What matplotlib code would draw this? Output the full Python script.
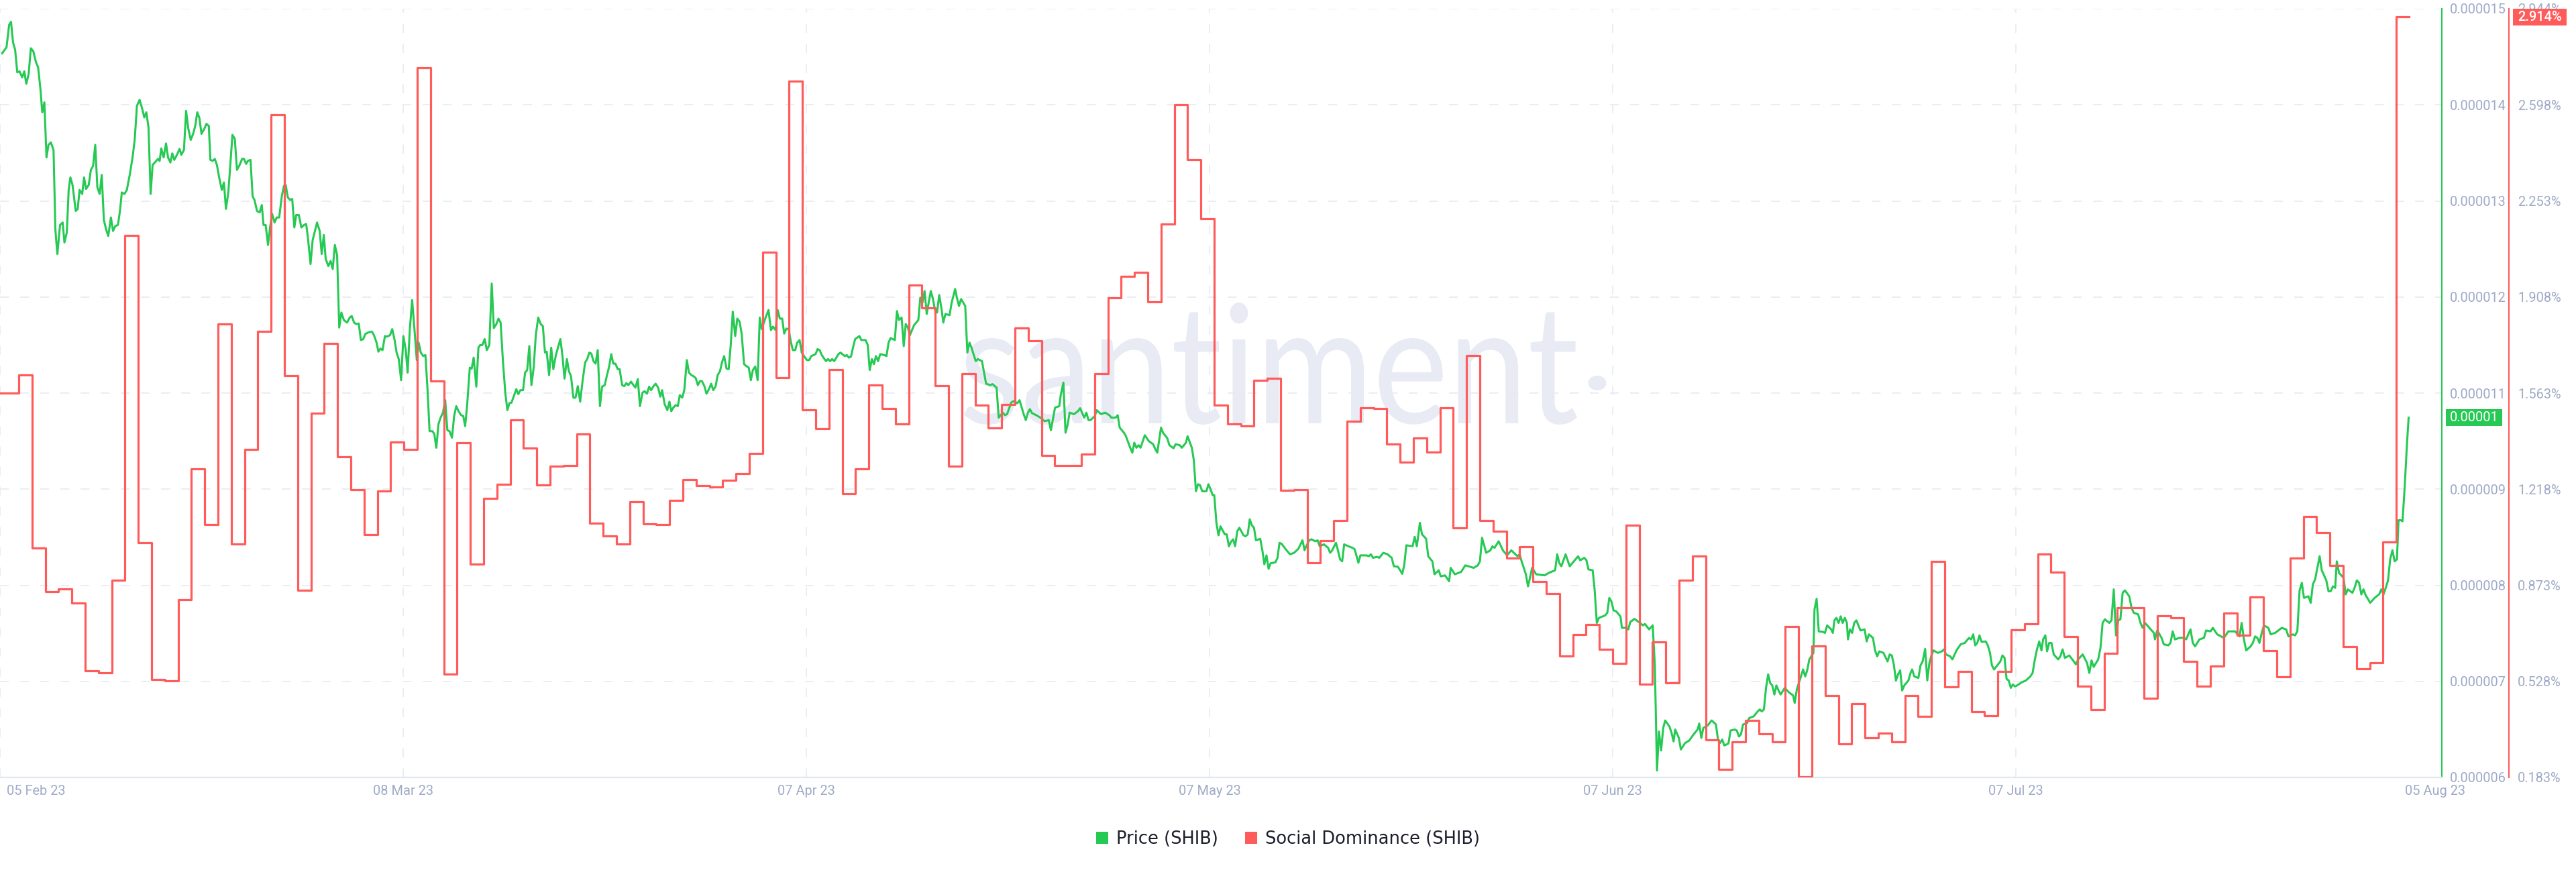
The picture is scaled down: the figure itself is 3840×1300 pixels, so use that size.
import numpy as np
import matplotlib
matplotlib.use("Agg")
import matplotlib.pyplot as plt
from matplotlib.patches import Patch, PathPatch, Ellipse, Rectangle
from matplotlib.textpath import TextPath
from matplotlib.font_manager import FontProperties
from matplotlib.transforms import Affine2D, IdentityTransform, ScaledTranslation

GREEN = "#26C953"
RED = "#FF5B5B"
MUTED = "#9FAAC6"
GRID = "#E7EAF3"

# x axis: days since the start of the chart
date_labels = ["05 Feb 23", "08 Mar 23", "07 Apr 23", "07 May 23", "07 Jun 23", "07 Jul 23", "05 Aug 23"]
date_ticks = [0, 30.35, 60.71, 91.06, 121.41, 151.77, 183.84]
x_end = 183.84
data_end = 181.34

price_tick_labels = ["0.000006", "0.000007", "0.000008", "0.000009", "0.000011",
                     "0.000012", "0.000013", "0.000014", "0.000015"]
dom_tick_labels = ["0.183%", "0.528%", "0.873%", "1.218%", "1.563%",
                   "1.908%", "2.253%", "2.598%", "2.944%"]
price_range = (6e-6, 15e-6)
dom_range = (0.183, 2.943)

# price (SHIB), in millionths of a dollar
price_days = [
    0.16, 0.49, 0.69, 0.83, 0.98, 1.14, 1.30, 1.47, 1.67, 1.83, 1.98, 2.16, 2.32, 2.51, 2.71, 2.87,
    3.05, 3.18, 3.34, 3.50, 3.65, 3.83, 4.03, 4.17, 4.32, 4.52, 4.72, 4.85, 5.03, 5.17, 5.30, 5.46,
    5.70, 5.85, 5.99, 6.19, 6.33, 6.48, 6.68, 6.84, 7.01, 7.17, 7.33, 7.50, 7.66, 7.82, 8.00, 8.15,
    8.35, 8.51, 8.68, 8.88, 9.04, 9.17, 9.37, 9.55, 9.78, 9.98, 10.14, 10.31, 10.51, 10.71, 10.86,
    11.02, 11.18, 11.34, 11.49, 11.73, 11.89, 12.02, 12.14, 12.32, 12.50, 12.65, 12.83, 12.97, 13.12,
    13.32, 13.52, 13.65, 13.85, 14.01, 14.18, 14.36, 14.54, 14.70, 14.85, 15.01, 15.17, 15.38, 15.54,
    15.72, 15.84, 16.01, 16.17, 16.33, 16.50, 16.70, 16.86, 17.01, 17.19, 17.35, 17.50, 17.68, 17.84,
    18.04, 18.23, 18.37, 18.53, 18.66, 18.86, 19.02, 19.16, 19.35, 19.55, 19.71, 19.84, 20.00, 20.18,
    20.33, 20.49, 20.67, 20.83, 21.02, 21.22, 21.38, 21.51, 21.67, 21.85, 22.00, 22.16, 22.30, 22.50,
    22.69, 22.89, 23.05, 23.18, 23.38, 23.54, 23.71, 23.87, 24.07, 24.22, 24.38, 24.52, 24.72, 24.89,
    25.05, 25.21, 25.38, 25.54, 25.70, 25.89, 26.13, 26.33, 26.48, 26.66, 26.82, 27.01, 27.17, 27.35,
    27.50, 27.70, 28.00, 28.15, 28.35, 28.49, 28.64, 28.80, 28.98, 29.15, 29.37, 29.53, 29.71, 29.86,
    30.02, 30.20, 30.37, 30.55, 30.69,
    30.85, 31.03, 31.18, 31.38, 31.52, 31.68, 31.87, 32.03, 32.19, 32.34, 32.56, 32.70, 32.85, 33.01,
    33.17, 33.35, 33.52, 33.68, 33.84, 34.03, 34.19, 34.35, 34.52, 34.72, 34.88, 35.02, 35.17, 35.37,
    35.51, 35.66, 35.86, 36.02, 36.15, 36.31, 36.49, 36.65, 36.84, 37.02, 37.18, 37.37, 37.53, 37.69,
    37.86, 38.04, 38.20, 38.35, 38.51, 38.71, 38.87, 39.02, 39.18, 39.38, 39.53, 39.69, 39.85, 40.01,
    40.18, 40.34, 40.52, 40.71, 40.87, 41.03, 41.16, 41.34, 41.50, 41.66, 41.85, 42.01, 42.19, 42.34,
    42.50, 42.68, 42.83, 42.99, 43.17, 43.33, 43.50, 43.68, 43.86, 44.05, 44.21, 44.37, 44.52, 44.68,
    44.84, 45.00, 45.17, 45.33, 45.53, 45.68, 45.86, 46.02, 46.17, 46.33, 46.51, 46.65, 46.84, 47.00,
    47.16, 47.31, 47.51, 47.69, 47.84, 48.02, 48.18, 48.37, 48.53, 48.71, 48.87, 49.02, 49.20, 49.36,
    49.55, 49.71, 49.85, 50.04, 50.24, 50.40, 50.54, 50.69, 50.87, 51.03, 51.18, 51.36, 51.52, 51.71,
    51.87, 52.05, 52.21, 52.38, 52.54, 52.70, 52.85, 53.03, 53.19, 53.38, 53.54, 53.70, 53.88, 54.03,
    54.21, 54.35, 54.52, 54.70, 54.86, 55.02, 55.17, 55.35, 55.51, 55.68, 55.84, 56.02, 56.19, 56.37,
    56.53, 56.68, 56.86, 57.04, 57.20, 57.35, 57.51, 57.67, 57.86, 58.04, 58.20, 58.39, 58.55, 58.71,
    58.89, 59.04, 59.20, 59.38, 59.53, 59.69, 59.87, 60.02, 60.20, 60.36, 60.56, 60.75,
    60.92, 61.08, 61.40, 61.55, 61.71, 61.87, 62.18, 62.34, 62.50, 62.65, 62.81, 63.12, 63.28, 63.60,
    63.75, 63.91, 64.07, 64.22, 64.38, 64.70, 64.85, 65.17, 65.33, 65.48, 65.64, 65.80, 65.95, 66.11,
    66.27, 66.58, 66.74, 66.90, 67.05, 67.37, 67.53, 67.68, 67.88, 68.04, 68.19, 68.35, 68.51, 68.66,
    68.82, 69.14, 69.29, 69.45, 69.61, 69.77, 69.92, 70.08, 70.24, 70.39, 70.55, 70.71, 70.87, 71.02,
    71.18, 71.49, 71.65, 71.91, 72.04, 72.20, 72.36, 72.67, 72.83, 72.99, 73.14, 73.46, 73.62, 73.93,
    74.09, 74.24, 74.56, 74.72, 75.03, 75.19, 75.50, 75.66, 75.82, 76.13, 76.29, 76.60, 76.76, 77.07,
    77.23, 77.39, 77.54, 77.70, 78.02, 78.33, 78.65, 78.96, 79.12, 79.27, 79.43, 79.75, 79.86, 80.06,
    80.22, 80.37, 80.53, 80.85, 81.16, 81.32, 81.63, 81.79, 81.95, 82.10, 82.42, 82.57, 82.89, 83.20,
    83.52, 83.67, 83.99, 84.15, 84.30, 84.62, 84.77, 85.09, 85.25, 85.40, 85.56, 85.72, 85.87, 86.19,
    86.50, 86.82, 86.98, 87.13, 87.41, 87.56, 87.88, 88.04, 88.35, 88.51, 88.82, 88.98, 89.29, 89.41,
    89.73, 89.88, 90.04, 90.20, 90.35, 90.51, 90.83, 90.98, 91.14, 91.30,
    91.42, 91.58, 91.74, 91.89, 92.21, 92.36, 92.52, 92.68, 92.84, 92.99, 93.15, 93.31, 93.62, 93.78,
    93.94, 94.09, 94.25, 94.41, 94.56, 94.88, 95.04, 95.19, 95.35, 95.51, 95.66, 96.02, 96.18, 96.33,
    96.49, 96.80, 97.12, 97.43, 97.75, 98.06, 98.22, 98.38, 98.57, 98.73, 99.04, 99.20, 99.36, 99.67,
    99.99, 100.14, 100.30, 100.58, 100.73, 100.89, 101.05, 101.20, 101.52, 101.83, 101.99, 102.27,
    102.42, 102.89, 103.05, 103.21, 103.37, 103.68, 103.84, 104.15, 104.47, 104.78, 104.94, 105.25,
    105.57, 105.72, 105.88, 106.35, 106.51, 106.67, 106.90, 107.06, 107.37, 107.53, 107.84, 108.00,
    108.32, 108.47, 108.79, 109.10, 109.22, 109.53, 110.01, 110.32, 110.95, 111.26, 111.42, 111.58,
    111.89, 112.21, 112.36, 112.52, 112.83, 113.15, 113.46, 113.78, 114.25, 114.41, 114.56, 114.88,
    115.04, 115.19, 115.35, 115.66, 116.29, 116.61, 117.08, 117.24, 117.39, 117.55, 117.87, 118.18,
    118.49, 118.81, 118.97, 119.28, 119.44, 119.59, 119.91, 120.06, 120.22, 120.38, 120.85, 121.01,
    121.16, 121.32, 121.48,
    121.68, 122.00, 122.11, 122.43, 122.59, 122.74, 123.06, 123.37, 123.69, 123.84, 124.16, 124.43,
    124.59, 124.75, 124.90, 125.06, 125.22, 125.37, 125.69, 125.85, 126.00, 126.12, 126.40, 126.55,
    126.87, 127.18, 127.50, 127.81, 127.93, 128.09, 128.24, 128.56, 128.87, 129.19, 129.34, 129.50,
    129.66, 129.82, 130.13, 130.29, 130.60, 130.76, 130.92, 131.07, 131.23, 131.54, 131.70, 132.02,
    132.33, 132.49, 132.64, 132.80, 132.96, 133.12, 133.27, 133.43, 133.59, 133.74, 133.90, 134.06,
    134.37, 134.69, 135.00, 135.12, 135.28, 135.43, 135.59, 135.75, 135.91, 136.06, 136.22, 136.53,
    136.61, 136.77, 136.93, 137.24, 137.40, 137.56, 137.87, 137.99, 138.11, 138.26, 138.42, 138.58,
    138.73, 138.89, 139.05, 139.13, 139.28, 139.44, 139.60, 139.76, 140.07, 140.38, 140.54, 140.70,
    141.01, 141.17, 141.33, 141.48, 141.80, 142.11, 142.27, 142.43, 142.58, 142.74, 142.90, 143.06,
    143.21, 143.37, 143.68, 143.84, 143.96, 144.12, 144.43, 144.59, 144.75, 144.94, 145.10, 145.26,
    145.41, 145.57, 145.89, 146.20, 146.36, 146.51, 146.83, 146.99, 147.30, 147.61, 147.93, 148.24,
    148.40, 148.56, 148.71, 148.87, 149.03, 149.19, 149.50, 149.66, 149.82, 149.97, 150.13, 150.60,
    150.76, 150.92, 151.07, 151.23, 151.39, 151.54, 151.70,
    151.86, 152.19, 152.53, 152.86, 153.03, 153.20, 153.36, 153.53, 153.70, 153.82, 153.99, 154.12,
    154.28, 154.45, 154.62, 154.95, 155.12, 155.29, 155.46, 155.79, 156.13, 156.29, 156.46, 156.80,
    157.13, 157.30, 157.47, 157.63, 157.97, 158.14, 158.30, 158.47, 158.81, 158.97, 159.14, 159.31,
    159.48, 159.64, 159.81, 159.98, 160.31, 160.48, 160.65, 160.98, 161.15, 161.32, 161.49, 161.82,
    162.16, 162.24, 162.41, 162.74, 162.91, 163.25, 163.41, 163.58, 163.75, 164.08, 164.42, 164.59,
    164.75, 164.92, 165.09, 165.26, 165.59, 165.93, 166.09, 166.43, 166.60, 166.93, 167.43, 167.77,
    168.27, 168.61, 168.77, 168.94, 169.11, 169.44, 169.61, 169.78, 169.95, 170.11, 170.28, 170.45,
    170.78, 170.95, 171.29, 171.79, 172.12, 172.29, 172.63, 172.79, 172.96, 173.13, 173.30, 173.46,
    173.80, 173.97, 174.13, 174.30, 174.47, 174.64, 174.80, 174.97, 175.14, 175.31, 175.47, 175.64,
    175.81, 175.93, 176.10, 176.44, 176.60, 176.77, 177.11, 177.27, 177.44, 177.61, 177.78, 177.94,
    178.11, 178.45, 178.78, 179.12, 179.28, 179.45, 179.62, 179.79, 179.95, 180.12, 180.29, 180.46,
    180.58, 180.75, 180.88, 181.04, 181.21, 181.34,
]
price_micro = [
    14.478, 14.548, 14.812, 14.847, 14.607, 14.519, 14.255, 14.267, 14.197, 14.267, 14.121, 14.238,
    14.537, 14.501, 14.373, 14.314, 14.050, 13.787, 13.904, 13.259, 13.406, 13.435, 13.347, 12.409,
    12.128, 12.468, 12.497, 12.263, 12.380, 12.878, 13.025, 12.937, 12.632, 12.656, 12.878, 12.831,
    13.025, 12.890, 12.937, 13.113, 13.160, 13.406, 12.908, 12.831, 13.054, 12.527, 12.409, 12.339,
    12.556, 12.398, 12.456, 12.468, 12.644, 12.849, 12.831, 12.878, 13.066, 13.259, 13.464, 13.863,
    13.933, 13.828, 13.728, 13.787, 13.611, 12.831, 13.171, 13.212, 13.242, 13.218, 13.365, 13.259,
    13.423, 13.259, 13.200, 13.306, 13.230, 13.289, 13.359, 13.289, 13.347, 13.804, 13.593, 13.464,
    13.535, 13.628, 13.787, 13.722, 13.535, 13.593, 13.652, 13.628, 13.230, 13.218, 13.242, 13.171,
    13.025, 12.878, 12.966, 12.656, 12.849, 13.200, 13.523, 13.476, 13.113, 13.171, 13.242, 13.242,
    13.183, 13.218, 13.230, 12.802, 12.761, 12.632, 12.615, 12.702, 12.468, 12.468, 12.234, 12.439,
    12.597, 12.497, 12.556, 12.556, 12.808, 12.925, 12.937, 12.790, 12.761, 12.773, 12.439, 12.585,
    12.585, 12.439, 12.468, 12.480, 12.322, 12.011, 12.292, 12.398, 12.497, 12.398, 12.128, 12.351,
    12.070, 11.987, 12.046, 11.952, 12.234, 12.116, 11.267, 11.443, 11.355, 11.325, 11.384, 11.402,
    11.325, 11.308, 11.314, 11.120, 11.132, 11.191, 11.208, 11.220, 11.179, 11.091, 10.985, 11.021,
    11.003, 11.167, 11.161, 11.179, 11.249, 11.120, 10.974, 10.898, 10.651, 11.167, 11.003, 10.739,
    11.237, 11.589, 11.296, 10.885, 11.091, 10.974, 10.933, 10.945, 10.534, 10.054, 10.054, 10.019,
    9.860, 10.136, 10.212, 10.271, 10.417, 10.065, 10.054, 9.978, 10.230, 10.347, 10.288, 10.241,
    10.230, 10.112, 10.359, 10.798, 10.786, 10.915, 10.575, 11.032, 11.062, 11.062, 11.132, 11.003,
    11.062, 11.782, 11.261, 11.308, 11.372, 11.325, 10.886, 10.505, 10.300, 10.382, 10.388, 10.476,
    10.546, 10.487, 10.534, 10.534, 10.739, 10.769, 11.050, 10.593, 10.798, 11.179, 11.384, 11.308,
    11.284, 10.974, 10.985, 10.710, 11.032, 10.780, 10.945, 11.032, 11.132, 10.945, 10.669, 10.898,
    10.757, 10.698, 10.446, 10.446, 10.581, 10.399, 10.640, 10.857, 10.898, 10.974, 10.962, 10.874,
    10.845, 11.003, 10.347, 10.575, 10.593, 10.698, 10.810, 10.956, 10.845, 10.845, 10.780, 10.780,
    10.593, 10.581, 10.616, 10.593, 10.634, 10.593, 10.564, 10.663, 10.347, 10.505, 10.522, 10.493,
    10.575, 10.534, 10.581, 10.610, 10.564, 10.458, 10.534, 10.370, 10.300, 10.399, 10.288, 10.329,
    10.359, 10.347, 10.476, 10.446, 10.534, 10.886, 10.739, 10.710, 10.698, 10.675, 10.593, 10.640,
    10.640, 10.581, 10.493, 10.546, 10.610, 10.534, 10.581, 10.710, 10.757, 10.857, 10.933, 10.786,
    10.780, 11.073, 11.454, 11.167, 11.372, 11.337, 11.191, 10.839, 10.816, 10.798, 10.651, 10.769,
    10.810, 10.651, 11.384, 11.249, 11.325, 11.396, 11.472, 11.237, 11.278, 11.237, 11.472, 11.372,
    11.372, 11.196, 11.255, 11.249, 11.109, 11.003, 11.003, 11.091, 11.120, 10.974, 10.927, 10.886,
    10.886, 10.933, 10.956, 11.015, 11.003, 10.945, 10.874, 10.898, 10.874, 10.898, 10.874, 10.956,
    10.974, 10.933, 10.945, 10.915, 10.927, 11.032, 11.132, 11.167, 11.120, 11.120, 11.062, 10.769,
    10.898, 10.839, 10.933, 10.874, 10.956, 10.945, 10.933, 11.091, 11.144, 11.120, 11.460, 11.355,
    11.384, 11.050, 11.308, 11.267, 11.179, 11.237, 11.296, 11.355, 11.618, 11.560, 11.695, 11.425,
    11.560, 11.695, 11.601, 11.472, 11.443, 11.648, 11.501, 11.325, 11.425, 11.413, 11.560, 11.718,
    11.618, 11.519, 11.601, 11.519, 10.974, 11.091, 11.032, 10.874, 10.898, 10.874, 10.739, 10.610,
    10.593, 10.605, 10.564, 10.212, 10.271, 10.241, 10.253, 10.388, 10.405, 10.382, 10.417, 10.253,
    10.183, 10.271, 10.312, 10.265, 10.241, 10.212, 10.171, 10.183, 10.065, 10.194, 10.329, 10.347,
    10.476, 10.622, 10.036, 10.124, 10.271, 10.253, 10.288, 10.323, 10.212, 10.271, 10.183, 10.183,
    10.230, 10.300, 10.253, 10.271, 10.241, 10.212, 10.212, 10.241, 10.095, 10.036, 9.995, 9.860,
    9.802, 9.919, 9.860, 9.890, 9.860, 10.007, 9.936, 9.901, 9.843, 9.802, 10.095, 10.036,
    9.972, 9.890, 9.854, 9.901, 9.890, 9.860, 9.919, 9.995, 9.860, 9.714, 9.351, 9.433,
    9.421, 9.351, 9.351, 9.433, 9.374, 9.304,
    9.304, 8.981, 8.835, 8.940, 8.846, 8.846, 8.706, 8.759, 8.788, 8.706, 8.882, 8.923,
    8.835, 8.823, 8.846, 9.022, 8.952, 8.923, 8.776, 8.794, 8.659, 8.495, 8.600, 8.442,
    8.507, 8.518, 8.571, 8.747, 8.735, 8.671, 8.612, 8.630, 8.677, 8.776, 8.659, 8.718,
    8.776, 8.788, 8.765, 8.776, 8.706, 8.729, 8.688, 8.630, 8.659, 8.747, 8.659, 8.553,
    8.530, 8.729, 8.706, 8.688, 8.671, 8.513, 8.600, 8.600, 8.589, 8.612, 8.571, 8.583,
    8.571, 8.630, 8.612, 8.571, 8.472, 8.466, 8.384, 8.483, 8.718, 8.706, 8.817, 8.706,
    8.981, 8.846, 8.794, 8.589, 8.530, 8.378, 8.425, 8.354, 8.366, 8.296, 8.454, 8.378,
    8.407, 8.483, 8.454, 8.483, 8.530, 8.806, 8.630, 8.659, 8.706, 8.688, 8.765, 8.659,
    8.600, 8.659, 8.589, 8.612, 8.530, 8.378, 8.237, 8.337, 8.454, 8.378, 8.366, 8.395,
    8.425, 8.612, 8.513, 8.472, 8.612, 8.472, 8.530, 8.589, 8.542, 8.571, 8.542, 8.436,
    8.425, 8.190, 7.809, 7.868, 7.897, 7.927, 8.102, 8.061, 7.956,
    7.944, 7.886, 7.751, 7.751, 7.733, 7.821, 7.856, 7.821, 7.780, 7.797, 7.733, 7.780,
    7.311, 6.081, 6.538, 6.315, 6.579, 6.667, 6.596, 6.520, 6.421, 6.561, 6.462, 6.327,
    6.403, 6.432, 6.503, 6.561, 6.631, 6.462, 6.579, 6.608, 6.667, 6.620, 6.444, 6.403,
    6.444, 6.374, 6.397, 6.549, 6.561, 6.549, 6.479, 6.503, 6.620, 6.637, 6.696, 6.714,
    6.772, 6.796, 6.772, 6.796, 7.048, 7.206, 7.106, 7.077, 6.971, 7.077, 7.018, 6.971,
    7.048, 6.995, 6.960, 6.872, 7.030, 7.106, 7.183, 7.264, 7.183, 7.253, 7.382, 7.458,
    7.968, 8.091, 7.710, 7.704, 7.692, 7.780, 7.733, 7.692, 7.839, 7.868, 7.809, 7.886,
    7.809, 7.868, 7.809, 7.616, 7.733, 7.692, 7.809, 7.839, 7.721, 7.733, 7.592, 7.675,
    7.634, 7.487, 7.417, 7.476, 7.458, 7.358, 7.440, 7.428, 7.323, 7.135, 7.206, 7.253,
    7.018, 7.077, 7.135, 7.223, 7.264, 7.183, 7.165, 7.311, 7.358, 7.505, 7.135, 7.340,
    7.428, 7.487, 7.458, 7.476, 7.499, 7.440, 7.417, 7.382, 7.487, 7.558, 7.575, 7.634,
    7.616, 7.675, 7.546, 7.575, 7.663, 7.587, 7.592, 7.546, 7.458, 7.311, 7.264, 7.358,
    7.428, 7.399, 7.153, 7.135, 7.048, 7.089, 7.065,
    7.077, 7.112, 7.135, 7.183, 7.223, 7.382, 7.499, 7.592, 7.487, 7.616, 7.663, 7.476,
    7.575, 7.575, 7.440, 7.382, 7.417, 7.499, 7.399, 7.428, 7.358, 7.323, 7.382, 7.440,
    7.340, 7.223, 7.370, 7.294, 7.382, 7.517, 7.809, 7.851, 7.809, 7.839, 8.202, 7.663,
    7.839, 7.851, 8.161, 8.190, 8.120, 7.985, 7.927, 7.909, 7.809, 7.751, 7.809, 7.751,
    7.692, 7.616, 7.721, 7.634, 7.558, 7.546, 7.575, 7.710, 7.616, 7.634, 7.634, 7.616,
    7.675, 7.733, 7.575, 7.534, 7.616, 7.634, 7.721, 7.710, 7.751, 7.675, 7.634, 7.710,
    7.710, 7.651, 7.809, 7.616, 7.487, 7.534, 7.575, 7.651, 7.634, 7.575, 7.692, 7.780,
    7.751, 7.675, 7.692, 7.751, 7.733, 7.651, 7.675, 7.663, 7.710, 8.190, 8.278, 8.102,
    8.120, 8.044, 8.260, 8.319, 8.454, 8.589, 8.425, 8.366, 8.307, 8.179, 8.179, 8.237,
    8.220, 8.530, 8.395, 8.337, 8.143, 8.202, 8.161, 8.220, 8.307, 8.278, 8.143, 8.202,
    8.132, 8.044, 8.102, 8.143, 8.202, 8.143, 8.220, 8.307, 8.554, 8.659, 8.530, 8.554,
    9.011, 9.011, 8.999, 9.392, 9.890, 10.212,
]

# social dominance (SHIB), one value per day, in percent
dominance = [
    1.564, 1.564, 1.627, 1.007, 0.849, 0.860, 0.810, 0.567, 0.558, 0.891,
    2.130, 1.025, 0.535, 0.531, 0.822, 1.291, 1.092, 1.811, 1.022, 1.361,
    1.784, 2.562, 1.626, 0.855, 1.491, 1.741, 1.334, 1.216, 1.054, 1.211,
    1.388, 1.361, 2.732, 1.606, 0.555, 1.385, 0.950, 1.184, 1.236, 1.466,
    1.365, 1.234, 1.300, 1.304, 1.417, 1.095, 1.049, 1.020, 1.173, 1.094,
    1.090, 1.178, 1.252, 1.230, 1.225, 1.250, 1.275, 1.347, 2.069, 1.618,
    2.682, 1.502, 1.435, 1.647, 1.201, 1.290, 1.591, 1.507, 1.453, 1.951,
    1.868, 1.590, 1.300, 1.634, 1.519, 1.437, 1.523, 1.796, 1.750, 1.340,
    1.304, 1.302, 1.343, 1.634, 1.906, 1.983, 1.996, 1.891, 2.170, 2.598,
    2.400, 2.190, 1.519, 1.453, 1.446, 1.609, 1.615, 1.214, 1.216, 0.953,
    1.034, 1.106, 1.462, 1.510, 1.507, 1.379, 1.316, 1.401, 1.351, 1.509,
    1.079, 1.699, 1.106, 1.067, 0.971, 1.011, 0.887, 0.842, 0.619, 0.697,
    0.731, 0.643, 0.592, 1.088, 0.517, 0.670, 0.522, 0.891, 0.977, 0.319,
    0.211, 0.310, 0.388, 0.339, 0.310, 0.725, 0.186, 0.655, 0.476, 0.303,
    0.447, 0.325, 0.341, 0.310, 0.477, 0.402, 0.959, 0.508, 0.564, 0.418,
    0.405, 0.564, 0.714, 0.734, 0.984, 0.919, 0.689, 0.510, 0.427, 0.628,
    0.792, 0.792, 0.467, 0.763, 0.756, 0.600, 0.510, 0.583, 0.774, 0.693,
    0.831, 0.637, 0.544, 0.970, 1.121, 1.061, 0.943, 0.653, 0.573, 0.596,
    1.029, 2.914,
]
dom_first_day = -0.586  # each daily value starts at this offset

last_price_label = "0.00001"
last_dom_label = "2.914%"

plt.rcParams["font.family"] = ["Roboto", "DejaVu Sans"]

W, H = 3840, 1300
fig = plt.figure(figsize=(W / 100, H / 100), dpi=100, facecolor="white")
ax = fig.add_axes([0, 1 - 1159 / H, 3640 / W, 1146 / H])
ax.set_facecolor("none")

price = np.array(price_micro) * 1e-6
ax.plot(price_days, price, color=GREEN, lw=2.2, zorder=3, solid_joinstyle="round")
ax.set_xlim(0, x_end)
ax.set_ylim(*price_range)

ax2 = ax.twinx()
dom_x = np.append(np.arange(len(dominance)) + dom_first_day, data_end)
dom_y = np.append(dominance, dominance[-1])
ax2.step(dom_x, dom_y, where="post", color=RED, lw=2.3, zorder=3)
ax2.set_ylim(*dom_range)

# ticks and labels
ax.set_yticks(np.linspace(price_range[0], price_range[1], 9), price_tick_labels)
ax2.set_yticks(np.linspace(dom_range[0], dom_range[1], 9), dom_tick_labels)
ax.set_xticks(date_ticks, date_labels)
ax.yaxis.tick_right()
ax.tick_params(axis="y", length=0, pad=8.6, labelsize=14.4, labelcolor=MUTED)
ax2.tick_params(axis="y", length=0, pad=9.4, labelsize=14.4, labelcolor=MUTED)
ax.tick_params(axis="x", length=0, pad=8, labelsize=14.4, labelcolor=MUTED)

ax.grid(True, color=GRID, lw=1.2, linestyle=(0, (8, 10)))

for side in ["top", "left"]:
    ax.spines[side].set_visible(False)
ax.spines["bottom"].set_color("#E1E6EF")
ax.spines["bottom"].set_linewidth(1.6)
ax.spines["right"].set_color(GREEN)
ax.spines["right"].set_linewidth(1.5)
for side in ["top", "left", "bottom"]:
    ax2.spines[side].set_visible(False)
ax2.spines["right"].set_position(("axes", 3740 / 3640))
ax2.spines["right"].set_color(RED)
ax2.spines["right"].set_linewidth(1.5)

xlabels = ax.get_xticklabels()
xlabels[0].set_ha("left")
xlabels[0].set_transform(xlabels[0].get_transform() + ScaledTranslation(0.10, 0, fig.dpi_scale_trans))
xlabels[-1].set_transform(xlabels[-1].get_transform() + ScaledTranslation(-0.10, 0, fig.dpi_scale_trans))

# watermark
tp = TextPath((0, 0), "santiment", size=100, prop=FontProperties(family="Lato"))
bb = tp.get_extents()
sx = 914 / bb.width
sy = 182 / bb.height
wm_tr = Affine2D().translate(-bb.x0, -bb.y0).scale(sx, sy).translate(1437, H - 633)
fig.add_artist(PathPatch(tp, transform=wm_tr, facecolor="#E8EAF4", edgecolor="none", zorder=-1))
fig.add_artist(Ellipse((2381, H - 571), 27, 22, transform=IdentityTransform(),
                       facecolor="#E8EAF4", edgecolor="none", zorder=-1))

# last value badges
yp = ax.transData.transform((0, price[-1]))[1]
fig.add_artist(Rectangle((3646, yp - 12.5), 84, 25, transform=IdentityTransform(),
                         facecolor=GREEN, edgecolor="none", zorder=5))
fig.text(3688, yp, last_price_label, transform=IdentityTransform(), ha="center", va="center",
         color="white", fontsize=14.4, zorder=6)
yd = ax2.transData.transform((0, dominance[-1]))[1]
fig.add_artist(Rectangle((3746, yd - 12.5), 80, 25, transform=IdentityTransform(),
                         facecolor=RED, edgecolor="none", zorder=5))
fig.text(3786, yd, last_dom_label, transform=IdentityTransform(), ha="center", va="center",
         color="white", fontsize=14.4, fontweight="medium", zorder=6)

# legend
handles = [Patch(facecolor=GREEN, edgecolor="none"), Patch(facecolor=RED, edgecolor="none")]
fig.legend(handles, ["Price (SHIB)", "Social Dominance (SHIB)"], loc="center",
           bbox_to_anchor=(1920 / W, 1 - 1251 / H), ncol=2, frameon=False,
           prop=FontProperties(family="DejaVu Sans", size=18.5), labelcolor="#1C1E2B",
           handlelength=0.7, handleheight=0.7, handletextpad=0.45, columnspacing=1.6)

fig.savefig("out.png", dpi=100, facecolor="white")
